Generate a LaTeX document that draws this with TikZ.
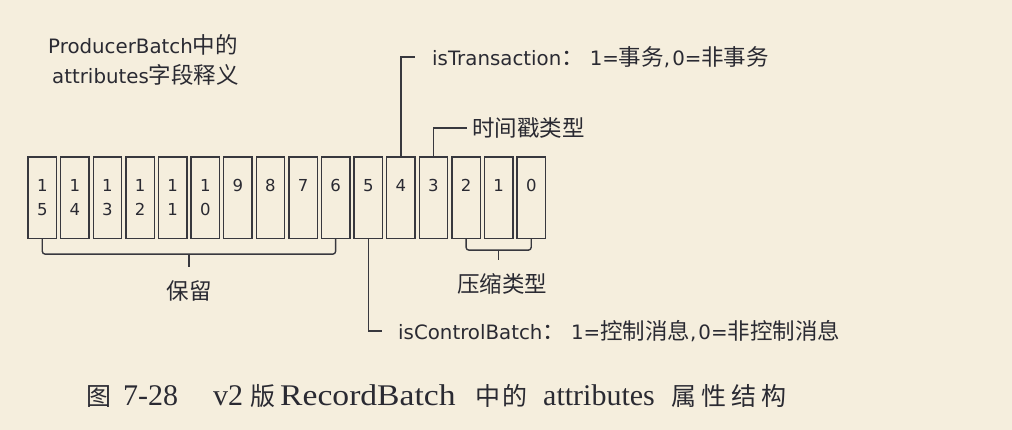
\documentclass[tikz,border=0pt]{standalone}
\usepackage{fontspec}
\usetikzlibrary{calc}
\setmainfont{DejaVu Sans}
\newfontfamily\cjk{Noto Sans CJK SC}
\newfontfamily\capserif{Liberation Serif}
\definecolor{bg}{HTML}{F5EEDD}
\definecolor{ink}{HTML}{2A2A32}
\definecolor{wire}{HTML}{38383E}
\newcommand{\zh}[1]{{\cjk\fontsize{22.5}{26}\selectfont #1}}
\newcommand{\czh}[1]{{\cjk\fontsize{25}{32}\selectfont #1}}
\tikzset{
  bitbox/.style={draw=wire, line width=1.4pt, minimum width=28.5pt, minimum height=81.5pt, inner sep=0pt},
  digit/.style={text=ink, font=\fontsize{16.5}{18}\selectfont, inner sep=0pt, anchor=base},
  lbl/.style={text=ink, font=\fontsize{19.8}{30}\selectfont, inner sep=0pt},
  conn/.style={draw=wire, line width=1.4pt},
  bracepath/.style={draw=wire, line width=1.4pt, rounded corners=3pt},
  captext/.style={text=ink, font=\capserif\fontsize{30}{34}\selectfont, inner sep=0pt, anchor=base west}
}
\begin{document}
\begin{tikzpicture}[x=1pt,y=-1pt]
\useasboundingbox[fill=bg] (0,0) rectangle (1012,430);
% title
\node[lbl, anchor=west] (title1) at (48,45) {ProducerBatch\zh{中的}};
\node[lbl, anchor=west] (title2) at (52,75) {attributes\zh{字段释义}};
% bit boxes
\foreach \k in {0,...,15}{
  \pgfmathtruncatemacro\bit{15-\k}
  \node[bitbox] (b\bit) at (42.25+32.6*\k,197.75) {};
}
\foreach \bit in {15,14,13,12,11,10}{
  \pgfmathtruncatemacro\low{\bit-10}
  \node[digit] (dt\bit) at ([yshift=-35pt]b\bit.north) {1};
  \node[digit] (db\bit) at ([yshift=-59.5pt]b\bit.north) {\low};
}
\foreach \bit in {9,...,0}{
  \node[digit] (dt\bit) at ([yshift=-35pt]b\bit.north) {\bit};
}
% labels
\node[lbl, anchor=west] (tx) at (432,57) {isTransaction\zh{：}\hspace{6pt}1=\zh{事务},\hspace{2pt}0=\zh{非事务}};
\node[lbl, anchor=west] (ts) at (472,128) {\zh{时间戳类型}};
\node[lbl, anchor=west] (cb) at (398,331) {isControlBatch\zh{：}\hspace{6pt}1=\zh{控制消息},\hspace{2pt}0=\zh{非控制消息}};
\node[lbl] (res) at (189,291) {\zh{保留}};
\node[lbl] (cmp) at (502,284) {\zh{压缩类型}};
% connectors
\draw[conn] (b4.north) |- ([xshift=-17pt]tx.west);
\draw[conn] (b3.north) |- ([xshift=-5pt]ts.west);
\draw[conn] (b5.south) |- ([xshift=-16pt]cb.west);
% braces
\draw[bracepath] (b15.south) -- ++(0,15) -| (b6.south);
\coordinate (m1) at ($(b15.south)!0.5!(b6.south)$);
\draw[conn] (m1 |- 0,254) -- (m1 |- 0,267);
\draw[bracepath] (b2.south) -- ++(0,11) -| (b0.south);
\coordinate (m2) at ($(b2.south)!0.5!(b0.south)$);
\draw[conn] (m2 |- 0,250) -- (m2 |- 0,260);
% caption
\node[captext] (c1) at (86,405) {\czh{图}};
\node[captext] (c2) at (123,405) {7-28};
\node[captext] (c3) at (213,405) {v2};
\node[captext] (c4) at (250,405) {\czh{版}};
\node[captext] (c5) at (280,405) {\scalebox{1.12}[1]{RecordBatch}};
\node[captext] (c6) at (475,405) {\czh{中\hspace{2pt}的}};
\node[captext] (c7) at (543,405) {attributes};
\node[captext] (c8) at (671,405) {\czh{属\hspace{5pt}性\hspace{5pt}结\hspace{5pt}构}};
\end{tikzpicture}
\end{document}
